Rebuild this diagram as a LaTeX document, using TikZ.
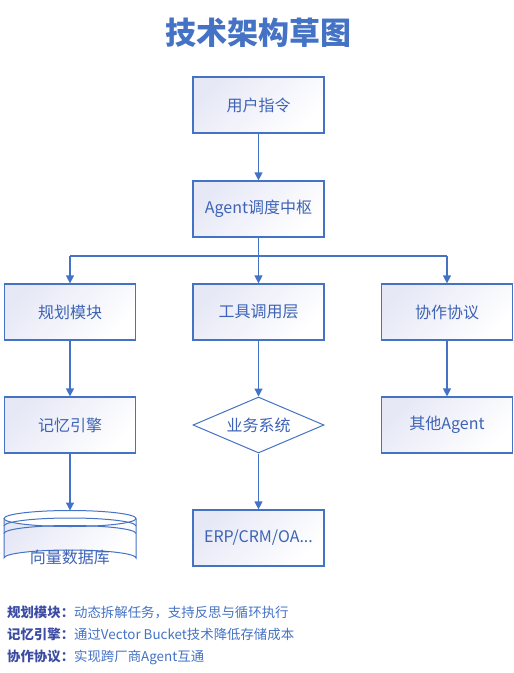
\documentclass[tikz,border=0pt]{standalone}
\usepackage{fontspec}
\setmainfont{Noto Sans CJK SC}
\usetikzlibrary{shapes.geometric,arrows.meta}
\definecolor{mainblue}{HTML}{4472C4}
\definecolor{txtblue}{HTML}{3E63B6}
\definecolor{lav}{HTML}{E6E8F6}
\definecolor{lblcol}{HTML}{3D4CA3}
\tikzset{
  box/.style={draw=mainblue, line width=1.2pt, minimum width=131pt, minimum height=56pt,
    inner sep=0pt, font=\fontsize{16}{19}\selectfont, text=txtblue,
    top color=lav, bottom color=white, shading angle=45},
  dia/.style={diamond, draw=mainblue, line width=1pt, minimum width=131pt, minimum height=56pt,
    inner sep=0pt, aspect=2.34, fill=white, font=\fontsize{16}{19}\selectfont, text=txtblue},
  conn/.style={draw=mainblue, line width=1.2pt, -{Triangle[length=8pt,width=8pt]}},
  plain/.style={draw=mainblue, line width=1.2pt},
  legend/.style={anchor=west, inner sep=0pt, font=\fontsize{13.4}{15}\selectfont, text=mainblue}
}
\begin{document}
\begin{tikzpicture}[x=1pt,y=-1pt]
\useasboundingbox (0,0) rectangle (514,673);
\node[font=\fontsize{31}{36}\selectfont\bfseries, text=mainblue] (title) at (258.5,32.5) {技术架构草图};

\node[box] (user) at (258.5,105) {用户指令};
\node[box] (hub) at (258.5,209) {Agent调度中枢};
\node[box] (plan) at (70,312) {规划模块};
\node[box] (tool) at (258.5,312) {工具调用层};
\node[box] (coop) at (447,312) {协作协议};
\node[box] (mem) at (70,425) {记忆引擎};
\node[dia] (biz) at (258.5,425) {业务系统};
\node[box] (other) at (447,425) {其他Agent};
\node[box] (erp) at (258.5,538) {ERP/CRM/OA...};

% cylinder
\shade[top color=lav, bottom color=white, shading angle=45]
  (4,518.5) -- (4,558) arc[start angle=180,end angle=360,x radius=66,y radius=8] -- (136,518.5)
  arc[start angle=0,end angle=180,x radius=66,y radius=8] -- cycle;
\draw[plain,line width=1pt] (4,518.5) -- (4,558) arc[start angle=180,end angle=360,x radius=66,y radius=8] -- (136,518.5);
\draw[plain,line width=1pt] (70,518.5) ellipse[x radius=66,y radius=8];
\draw[plain,line width=1pt] (4,526) arc[start angle=180,end angle=360,x radius=66,y radius=8];
\draw[plain,line width=1pt] (4,533.5) arc[start angle=180,end angle=360,x radius=66,y radius=8];
\node[inner sep=0pt, font=\fontsize{16}{19}\selectfont, text=txtblue] (db) at (70,557) {向量数据库};
\coordinate (dbtop) at (70,510.5);

% connectors
\draw[conn] (user) -- (hub);
\coordinate (split) at (258.5,256);
\coordinate (splitL) at (70,256);
\coordinate (splitR) at (447,256);
\draw[plain] (hub.south) -- (split);
\draw[plain] (splitL) -- (splitR);
\draw[conn] (splitL) -- (plan);
\draw[conn] (split) -- (tool);
\draw[conn] (splitR) -- (coop);
\draw[conn] (plan) -- (mem);
\draw[conn] (tool) -- (biz);
\draw[conn] (coop) -- (other);
\draw[conn] (mem) -- (dbtop);
\draw[conn] (biz) -- (erp);

% legend
\node[legend] (l1) at (7,612) {\textcolor{lblcol}{\bfseries 规划模块：}动态拆解任务，支持反思与循环执行};
\node[legend] (l2) at (7,634.5) {\textcolor{lblcol}{\bfseries 记忆引擎：}通过Vector Bucket技术降低存储成本};
\node[legend] (l3) at (7,657.5) {\textcolor{lblcol}{\bfseries 协作协议：}实现跨厂商Agent互通};
\end{tikzpicture}
\end{document}
